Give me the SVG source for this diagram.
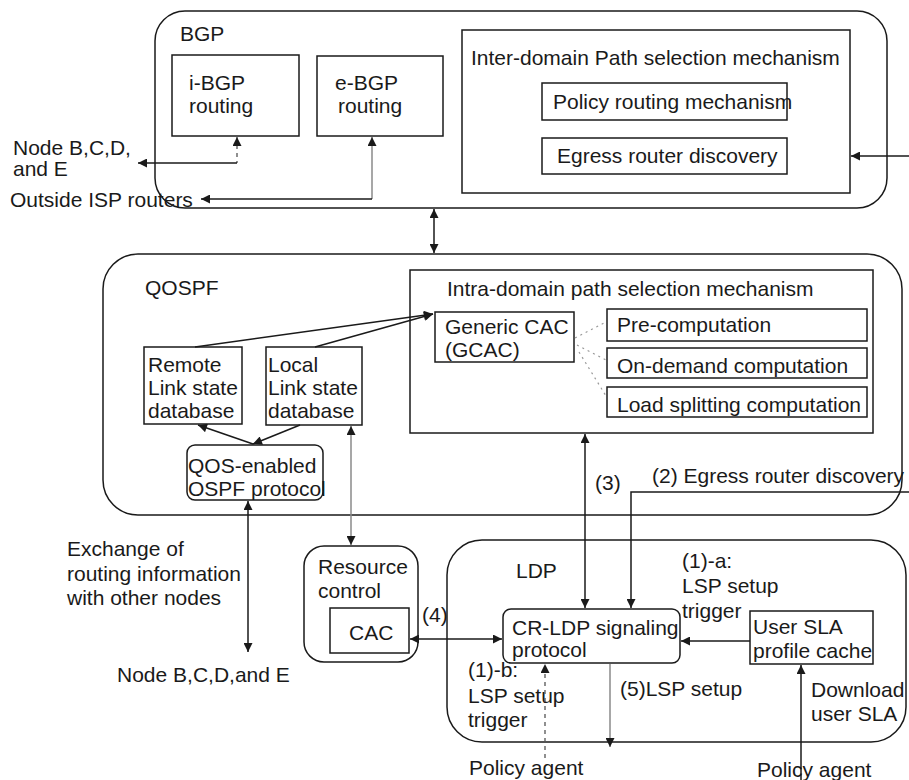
<svg xmlns="http://www.w3.org/2000/svg" width="909" height="780" viewBox="0 0 909 780">
  <style>
    .box { fill: none; stroke: #1a1a1a; stroke-width: 1.5; }
    .t { font-family: "Liberation Sans", Arial, sans-serif; font-size: 21px; fill: #1a1a1a; }
    .ln { fill: none; stroke: #1a1a1a; stroke-width: 1.5; }
    .lg { fill: none; stroke: #8a8a8a; stroke-width: 1.5; }
    .ld { fill: none; stroke: #555; stroke-width: 1.3; stroke-dasharray: 4 4; }
    .dot { fill: none; stroke: #999; stroke-width: 1.2; stroke-dasharray: 2 4; }
  </style>
  <defs>
    <marker id="ah" viewBox="0 0 10 10" refX="10" refY="5" markerWidth="11" markerHeight="9" markerUnits="userSpaceOnUse" orient="auto-start-reverse">
      <path d="M0,0 L10,5 L0,10 z" fill="#1a1a1a"/>
    </marker>
  </defs>
  <rect width="909" height="780" fill="#ffffff"/>

  <!-- BGP layer -->
  <g id="bgp">
    <rect class="box" x="155" y="11" width="732" height="197" rx="30"/>
    <text class="t" x="180" y="41">BGP</text>
  </g>
  <g id="ibgp">
    <rect class="box" x="172" y="55" width="127" height="81"/>
    <text class="t" x="189" y="90">i-BGP</text>
    <text class="t" x="189" y="113">routing</text>
  </g>
  <g id="ebgp">
    <rect class="box" x="317" y="56" width="126" height="80"/>
    <text class="t" x="335" y="90">e-BGP</text>
    <text class="t" x="338" y="113">routing</text>
  </g>
  <g id="inter-domain">
    <rect class="box" x="462" y="30" width="388" height="163"/>
    <text class="t" x="471" y="65">Inter-domain Path selection mechanism</text>
  </g>
  <g id="policy-routing">
    <rect class="box" x="542" y="83" width="245" height="37"/>
    <text class="t" x="553" y="109">Policy routing mechanism</text>
  </g>
  <g id="egress-discovery">
    <rect class="box" x="542" y="138" width="245" height="36"/>
    <text class="t" x="557" y="163">Egress router discovery</text>
  </g>

  <!-- QOSPF layer -->
  <g id="qospf">
    <rect class="box" x="103" y="254" width="799" height="261" rx="35"/>
    <text class="t" x="145" y="295">QOSPF</text>
  </g>
  <g id="intra-domain">
    <rect class="box" x="410" y="270" width="463" height="163"/>
    <text class="t" x="447" y="296">Intra-domain path selection mechanism</text>
  </g>
  <g id="gcac">
    <rect class="box" x="435" y="312" width="139" height="50"/>
    <text class="t" x="445" y="334">Generic CAC</text>
    <text class="t" x="445" y="357">(GCAC)</text>
  </g>
  <g id="pre-computation">
    <rect class="box" x="607" y="309" width="260" height="32"/>
    <text class="t" x="617" y="332">Pre-computation</text>
  </g>
  <g id="on-demand">
    <rect class="box" x="607" y="348" width="260" height="30"/>
    <text class="t" x="617" y="373">On-demand computation</text>
  </g>
  <g id="load-splitting">
    <rect class="box" x="607" y="387" width="260" height="30"/>
    <text class="t" x="617" y="412">Load splitting computation</text>
  </g>
  <g id="remote-lsdb">
    <rect class="box" x="144" y="347" width="98" height="77"/>
    <text class="t" x="148" y="372">Remote</text>
    <text class="t" x="148" y="395">Link state</text>
    <text class="t" x="148" y="418">database</text>
  </g>
  <g id="local-lsdb">
    <rect class="box" x="266" y="347" width="96" height="78"/>
    <text class="t" x="268" y="372">Local</text>
    <text class="t" x="268" y="395">Link state</text>
    <text class="t" x="268" y="418">database</text>
  </g>
  <g id="qos-ospf">
    <rect class="box" x="187" y="445" width="136" height="55" rx="8"/>
    <text class="t" x="188" y="473">QOS-enabled</text>
    <text class="t" x="188" y="496">OSPF protocol</text>
  </g>

  <!-- Resource control -->
  <g id="resource-control">
    <rect class="box" x="304" y="546" width="114" height="116" rx="20"/>
    <text class="t" x="318" y="574">Resource</text>
    <text class="t" x="318" y="598">control</text>
  </g>
  <g id="cac">
    <rect class="box" x="330" y="608" width="79" height="45"/>
    <text class="t" x="349" y="640">CAC</text>
  </g>

  <!-- LDP layer -->
  <g id="ldp">
    <rect class="box" x="447" y="540" width="459" height="202" rx="35"/>
    <text class="t" x="516" y="578">LDP</text>
  </g>
  <g id="cr-ldp">
    <rect class="box" x="503" y="609" width="177" height="54" rx="8"/>
    <text class="t" x="512" y="635">CR-LDP signaling</text>
    <text class="t" x="512" y="657">protocol</text>
  </g>
  <g id="user-sla">
    <rect class="box" x="750" y="611" width="123" height="53"/>
    <text class="t" x="753" y="634">User SLA</text>
    <text class="t" x="753" y="658">profile cache</text>
  </g>

  <!-- free labels -->
  <g id="labels">
    <text class="t" x="13" y="155">Node B,C,D,</text>
    <text class="t" x="13" y="176">and E</text>
    <text class="t" x="10" y="207">Outside ISP routers</text>
    <text class="t" x="67" y="556">Exchange of</text>
    <text class="t" x="67" y="581">routing information</text>
    <text class="t" x="67" y="605">with other nodes</text>
    <text class="t" x="117" y="682">Node B,C,D,and E</text>
    <text class="t" x="422" y="622">(4)</text>
    <text class="t" x="595" y="490">(3)</text>
    <text class="t" x="652" y="483">(2) Egress router discovery</text>
    <text class="t" x="682" y="568">(1)-a:</text>
    <text class="t" x="682" y="593">LSP setup</text>
    <text class="t" x="682" y="618">trigger</text>
    <text class="t" x="468" y="677">(1)-b:</text>
    <text class="t" x="468" y="703">LSP setup</text>
    <text class="t" x="468" y="727">trigger</text>
    <text class="t" x="620" y="696">(5)LSP setup</text>
    <text class="t" x="811" y="697">Download</text>
    <text class="t" x="811" y="721">user SLA</text>
    <text class="t" x="469" y="775">Policy agent</text>
    <text class="t" x="757" y="777">Policy agent</text>
  </g>

  <!-- connectors -->
  <g id="connectors">
    <path class="ld" d="M237,137 V163" marker-start="url(#ah)"/>
    <path class="ln" d="M237,163 H138" marker-end="url(#ah)"/>
    <path class="lg" d="M372,137 V199" marker-start="url(#ah)"/>
    <path class="ln" d="M372,199 H201" marker-end="url(#ah)"/>
    <path class="ln" d="M909,156 H851" marker-end="url(#ah)"/>
    <path class="ln" d="M434,209 V253" marker-start="url(#ah)" marker-end="url(#ah)"/>
    <path class="ln" d="M195,347 L433,314" marker-end="url(#ah)"/>
    <path class="ln" d="M315,347 L433,314" marker-end="url(#ah)"/>
    <path class="ln" d="M253,444 L198,425" marker-end="url(#ah)"/>
    <path class="ln" d="M300,425 L253,444" marker-end="url(#ah)"/>
    <path class="lg" d="M351,426 V545" marker-start="url(#ah)" marker-end="url(#ah)"/>
    <path class="ln" d="M248,501 V652" marker-start="url(#ah)" marker-end="url(#ah)"/>
    <path class="dot" d="M575,338 L606,322"/>
    <path class="dot" d="M577,345 L606,360"/>
    <path class="dot" d="M579,352 L606,396"/>
    <path class="ln" d="M585,434 V608" marker-start="url(#ah)" marker-end="url(#ah)"/>
    <path class="ln" d="M909,492 H631 V608" marker-end="url(#ah)"/>
    <path class="ln" d="M410,639 H502" marker-start="url(#ah)" marker-end="url(#ah)"/>
    <path class="ln" d="M750,641 H681" marker-end="url(#ah)"/>
    <path class="ld" d="M545,758 V664" marker-end="url(#ah)"/>
    <path class="lg" d="M610,664 V747" marker-end="url(#ah)"/>
    <path class="ln" d="M801,780 V665" marker-end="url(#ah)"/>
  </g>
</svg>
